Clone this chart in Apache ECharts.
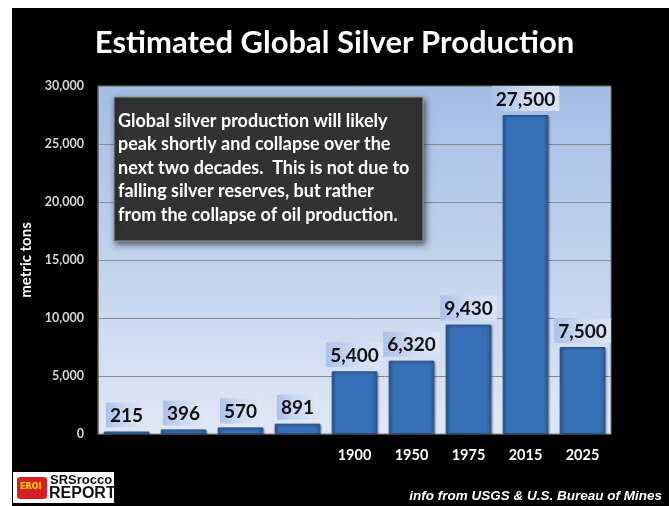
<!DOCTYPE html>
<html><head><meta charset="utf-8">
<script src="https://cdn.jsdelivr.net/npm/echarts@6/dist/echarts.min.js"></script>
<style>html,body{margin:0;padding:0;background:#fff;}#c{width:669px;height:506px;}</style>
</head><body><div id="c"></div>
<script>
const categories = ['', '', '', '', '1900', '1950', '1975', '2015', '2025'];
const production = [215, 396, 570, 891, 5400, 6320, 9430, 27500, 7500];
const yTicks = [0, 5000, 10000, 15000, 20000, 25000, 30000];
const titleText = 'Estimated Global Silver Production';
const noteLines = [
  'Global silver production will likely',
  'peak shortly and collapse over the',
  'next two decades.  This is not due to',
  'falling silver reserves, but rather',
  'from the collapse of oil production.'
];
const sourceText = 'info from USGS & U.S. Bureau of Mines';

const chart = echarts.init(document.getElementById('c'));
const F = 'Lato, "Open Sans", sans-serif';
const barGrad = new echarts.graphic.LinearGradient(0, 0, 1, 0, [
  {offset: 0, color: '#2c5f9e'}, {offset: 0.12, color: '#3670b6'},
  {offset: 0.88, color: '#3670b6'}, {offset: 1, color: '#2a5a96'}
]);
const labelGrad = new echarts.graphic.LinearGradient(0, 0, 1, 0, [
  {offset: 0, color: 'rgba(170,192,232,0.95)'}, {offset: 0.5, color: 'rgba(205,218,242,0.95)'}, {offset: 1, color: 'rgba(222,230,246,0.9)'}
]);
chart.setOption({
  backgroundColor: '#ffffff',
  animation: false,
  graphic: [
    {type: 'rect', z: -10, shape: {x: 12, y: 8, width: 657, height: 498}, style: {fill: '#000'}},
    {type: 'text', z: 10, left: 'center', top: 27, style: {text: titleText, fill: '#fff', font: 'bold 31px ' + F}},
    {type: 'rect', z: 20, shape: {x: 114, y: 97, width: 309, height: 144}, style: {fill: '#323232', stroke: '#9a9a9a', lineWidth: 1, shadowBlur: 6, shadowOffsetX: 2, shadowOffsetY: 3, shadowColor: 'rgba(0,0,0,0.6)'}},
    ...noteLines.map((t, i) => ({type: 'text', z: 21, x: 118, y: 112 + i * 23.5, style: {text: t, fill: '#fff', font: 'bold 18px ' + F, textBaseline: 'top'}})),
    {type: 'rect', z: 10, shape: {x: 13, y: 472, width: 101, height: 31}, style: {fill: '#fff'}},
    {type: 'rect', z: 11, shape: {x: 17, y: 477, width: 30, height: 22, r: 3}, style: {fill: '#d42020'}},
    {type: 'text', z: 12, x: 20, y: 483, style: {text: 'EROI', fill: '#ffe000', font: 'bold 8px "DejaVu Sans"'}},
    {type: 'text', z: 12, x: 50, y: 474, style: {text: 'SRSrocco', fill: '#111', font: 'bold 13px "Liberation Sans"', textBaseline: 'top'}},
    {type: 'text', z: 12, x: 49, y: 486, style: {text: 'REPORT', fill: '#111', font: 'bold 16px "Liberation Sans"', textBaseline: 'top'}},
    {type: 'text', z: 10, right: 7, top: 489, style: {text: sourceText, fill: '#fff', font: 'italic bold 13.5px "Liberation Sans Narrow", "Liberation Sans", sans-serif'}}
  ],
  grid: {
    left: 98, right: 58, top: 86, bottom: 72, show: true,
    borderColor: '#7a7a7a', borderWidth: 1,
    backgroundColor: new echarts.graphic.LinearGradient(0, 0, 0, 1, [
      {offset: 0, color: '#a4bde5'}, {offset: 1, color: '#e0e8f5'}
    ])
  },
  xAxis: {
    type: 'category', data: categories,
    axisLine: {lineStyle: {color: '#555', width: 1}},
    axisTick: {show: false},
    axisLabel: {color: '#fff', fontFamily: F, fontWeight: 'bold', fontSize: 14.5, margin: 14}
  },
  yAxis: {
    type: 'value', min: 0, max: 30000, interval: 5000,
    name: 'metric tons', nameLocation: 'middle', nameRotate: 90, nameGap: 62,
    nameTextStyle: {color: '#fff', fontFamily: F, fontWeight: 'bold', fontSize: 15},
    axisLine: {show: true, lineStyle: {color: '#7a7a7a'}},
    axisTick: {show: false},
    splitLine: {lineStyle: {color: '#8a8a8a', width: 1}},
    axisLabel: {color: '#d8d8d8', fontFamily: F, fontWeight: 'bold', fontSize: 12.5, margin: 14,
      formatter: v => yTicks.includes(v) ? v.toLocaleString('en-US') : ''}
  },
  series: [{
    type: 'bar', data: production, barWidth: '80%',
    itemStyle: {color: barGrad, borderColor: '#2a5288', borderWidth: 1,
      shadowBlur: 2, shadowColor: 'rgba(0,0,0,0.35)', shadowOffsetX: 1, shadowOffsetY: 1},
    label: {
      show: true, position: 'top', distance: 4,
      formatter: p => p.value.toLocaleString('en-US'),
      color: '#111', fontFamily: F, fontWeight: 'bold', fontSize: 19,
      backgroundColor: labelGrad, padding: [4, 4, 2, 4]
    }
  }]
});
</script></body></html>
